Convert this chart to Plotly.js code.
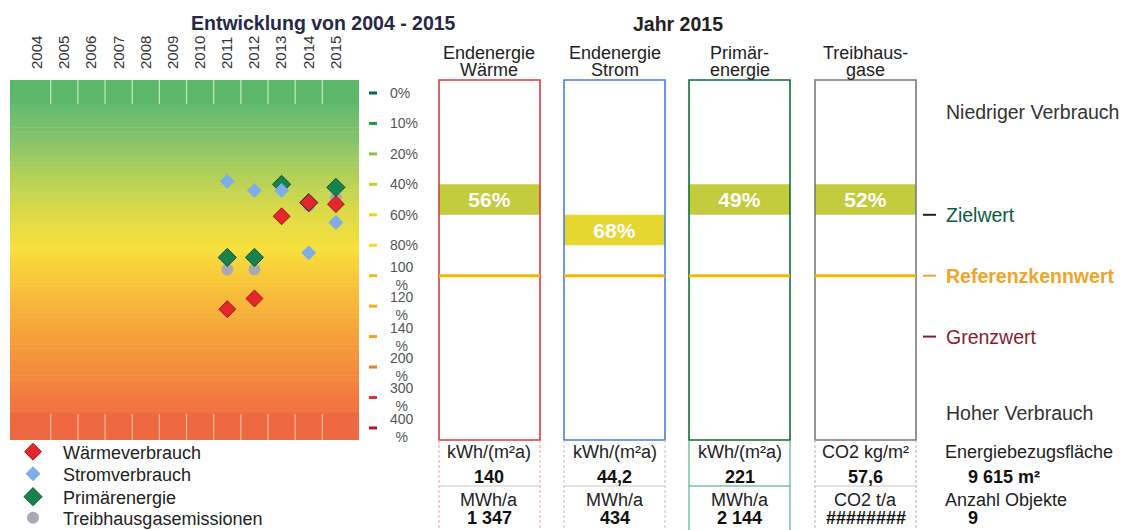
<!DOCTYPE html>
<html><head><meta charset="utf-8">
<script src="https://cdn.plot.ly/plotly-3.0.1.min.js"></script>
<style>
html,body{margin:0;padding:0;background:#fff;width:1122px;height:530px;overflow:hidden}
#chart{position:absolute;left:0;top:0;width:1122px;height:530px}
</style>
</head><body><div id="chart"></div>
<script>
// ---------- data ----------
const years = [2004,2005,2006,2007,2008,2009,2010,2011,2012,2013,2014,2015];
const scaleTicks = [0,10,20,40,60,80,100,120,140,200,300,400];
const scaleLabels = ['0%','10%','20%','40%','60%','80%','100<br>%','120<br>%','140<br>%','200<br>%','300<br>%','400<br>%'];
const tickColors = ['#0b6b3c','#1f9a48','#8fc43c','#c5d22c','#e9d51c','#f2dc12','#f0bc1c','#efb020','#eda022','#e67e22','#d8343a','#c0102e'];

const dataYears = [2011,2012,2013,2014,2015];
const waerme    = [122,115,61,52,53];
const strom     = [38,44,44,85,65];
const primaer   = [88,88,40,52,42];
const treibhaus = [96,96,43,54,49];

const headerLine1 = ['Endenergie','Endenergie','Primär-','Treibhaus-'];
const headerLine2 = ['Wärme','Strom','energie','gase'];
const share2015   = [56,68,49,52];
const specUnits   = ['kWh/(m²a)','kWh/(m²a)','kWh/(m²a)','CO2 kg/m²'];
const specValues  = ['140','44,2','221','57,6'];
const absUnits    = ['MWh/a','MWh/a','MWh/a','CO2 t/a'];
const absValues   = ['1 347','434','2 144','########'];
const levelNames  = ['Zielwert','Referenzkennwert','Grenzwert'];
const levelValues = [60,100,140];
const areaText = '9 615 m²';
const objectCount = '9';

// ---------- helpers ----------
const W = 1122, H = 530;
const px = x => x / W, py = y => 1 - y / H;
const FONT = 'Liberation Sans, Arial, sans-serif';
function toIdx(v){
  for (let i = 0; i < scaleTicks.length - 1; i++){
    if (v <= scaleTicks[i+1]) return i + (v - scaleTicks[i]) / (scaleTicks[i+1] - scaleTicks[i]);
  }
  return scaleTicks.length - 1;
}
function classIdx(v){
  for (let i = 0; i < scaleTicks.length - 1; i++){ if (v < scaleTicks[i+1]) return i; }
  return scaleTicks.length - 2;
}
const classColors = ['#6cbd72','#98c865','#b6cf50','#c3cc3c','#e6d630','#f5d83a','#f6c23a','#f4aa3a','#f39240','#f07a42','#ee6a42'];
function hex2rgb(h){ return [1,3,5].map(i => parseInt(h.substr(i,2),16)); }
const gradStops = [[104,'#62ba72'],[140,'#86c46a'],[175,'#b2d05a'],[210,'#d9da48'],[248,'#f7e03c'],[280,'#f8c83a'],[320,'#f6ac3a'],[360,'#f4933c'],[395,'#f27c40'],[414,'#f0703f']];
function gradColor(y){
  for (let i = 0; i < gradStops.length - 1; i++){
    const [y0,c0] = gradStops[i], [y1,c1] = gradStops[i+1];
    if (y <= y1){
      const t = Math.max(0,(y - y0)/(y1 - y0)), a = hex2rgb(c0), b = hex2rgb(c1);
      return 'rgb(' + a.map((v,k) => Math.round(v + (b[k]-v)*t)).join(',') + ')';
    }
  }
  return gradStops[gradStops.length-1][1];
}

// ---------- traces ----------
const traces = [];
traces.push({type:'scatter', mode:'markers', name:'Treibhausgasemissionen', legend:'legend4',
  x: dataYears, y: treibhaus.map(toIdx), xaxis:'x', yaxis:'y',
  marker:{symbol:'circle', size:12, color:'#a9a9b4'}, hoverinfo:'skip'});
traces.push({type:'scatter', mode:'markers', name:'Primärenergie', legend:'legend3',
  x: dataYears, y: primaer.map(toIdx), xaxis:'x', yaxis:'y',
  marker:{symbol:'diamond', size:14, color:'#17824c', line:{color:'#0d5a32', width:1}}, hoverinfo:'skip'});
traces.push({type:'scatter', mode:'markers', name:'Stromverbrauch', legend:'legend2',
  x: dataYears, y: strom.map(toIdx), xaxis:'x', yaxis:'y',
  marker:{symbol:'diamond', size:11.5, color:'#7eaee8'}, hoverinfo:'skip'});
traces.push({type:'scatter', mode:'markers', name:'Wärmeverbrauch', legend:'legend',
  x: dataYears, y: waerme.map(toIdx), xaxis:'x', yaxis:'y',
  marker:{symbol:'diamond', size:13, color:'#e2282c', line:{color:'#a8141a', width:1}}, hoverinfo:'skip'});

share2015.forEach((v,i) => {
  const ax = 'x' + (i+2);
  traces.push({type:'bar', x:[0], y:[1], base:[classIdx(v)], width:[1], xaxis:ax, yaxis:'y',
    marker:{color: classColors[classIdx(v)], line:{width:0}},
    text:[v + '%'], textposition:'inside', insidetextanchor:'middle', textangle:0,
    textfont:{color:'#ffffff', size:21, family:FONT, weight:'bold'}, constraintext:'none',
    showlegend:false, hoverinfo:'skip'});
});

// ---------- layout ----------
const boxLeft = [439, 564, 689, 815], boxW = 101;
const boxColors = ['#e0383c','#4a80d2','#0f6e38','#7a7a7a'];
const tableLine = ['#e8a0a8','#c0c0c0','#3aa07a','#b0b0b0'];
const shapes = [], annotations = [];

// gradient background
const N = 80;
for (let k = 0; k < N; k++){
  const y0 = 104 + (414-104)*k/N, y1 = 104 + (414-104)*(k+1)/N + 0.6;
  shapes.push({type:'rect', layer:'below', xref:'x domain', yref:'paper', x0:0, x1:1, y0:py(y0), y1:py(y1),
    fillcolor: gradColor((y0+y1)/2), line:{width:0}});
}
shapes.push({type:'rect', layer:'below', xref:'x domain', yref:'paper', x0:0, x1:1, y0:py(80), y1:py(104.5), fillcolor:'#5db86b', line:{width:0}});
shapes.push({type:'rect', layer:'below', xref:'x domain', yref:'paper', x0:0, x1:1, y0:py(413.5), y1:py(440), fillcolor:'#ee6842', line:{width:0}});
years.slice(0,-1).forEach(yr => {
  shapes.push({type:'line', layer:'below', xref:'x', yref:'paper', x0:yr+0.5, x1:yr+0.5, y0:py(80), y1:py(104), line:{color:'rgba(220,245,215,0.75)', width:1.3}});
  shapes.push({type:'line', layer:'below', xref:'x', yref:'paper', x0:yr+0.5, x1:yr+0.5, y0:py(414), y1:py(440), line:{color:'rgba(255,200,170,0.8)', width:1.3}});
});

// scale ticks + labels
scaleTicks.forEach((t,i) => {
  shapes.push({type:'line', xref:'paper', yref:'y', x0:px(369), x1:px(377), y0:i, y1:i, line:{color:tickColors[i], width:3}});
  annotations.push({xref:'paper', yref:'y', x:px(388), y:i, xanchor:'left', yanchor:'middle', align:'center',
    text: scaleLabels[i], showarrow:false, font:{size:14, color:'#555', family:FONT}});
});

// boxes, reference line, table
const lastRow = {yref:'paper', y:py(529.5), yanchor:'bottom', showarrow:false};
boxLeft.forEach((bx,i) => {
  const ax = 'x' + (i+2);
  shapes.push({type:'rect', xref: ax + ' domain', yref:'y domain', x0:0, x1:1, y0:0, y1:1, line:{color:boxColors[i], width:1.6}});
  shapes.push({type:'line', xref: ax + ' domain', yref:'y', x0:0, x1:1, y0:toIdx(levelValues[1]), y1:toIdx(levelValues[1]), line:{color:'#f5b800', width:3}});
  const dash = i === 2 ? 'solid' : '3px,2px';
  [0,1].forEach(e => shapes.push({type:'line', xref: ax + ' domain', yref:'paper', x0:e, x1:e, y0:py(440), y1:py(530), line:{color:tableLine[i], width:1, dash:dash}}));
  shapes.push({type:'line', xref: ax + ' domain', yref:'paper', x0:0, x1:1, y0:py(486), y1:py(486), line:{color: i===2 ? '#3aa07a' : '#c8c8c8', width:1}});
  annotations.push({xref:ax, yref:'paper', x:0, y:py(53), text:headerLine1[i], showarrow:false, yanchor:'middle', font:{size:18, color:'#222', family:FONT}});
  annotations.push({xref:ax, yref:'paper', x:0, y:py(70), text:headerLine2[i], showarrow:false, yanchor:'middle', font:{size:18, color:'#222', family:FONT}});
  annotations.push({xref:ax, yref:'paper', x:0, y:py(452), text:specUnits[i], showarrow:false, yanchor:'middle', font:{size:18, color:'#222', family:FONT}});
  annotations.push({xref:ax, yref:'paper', x:0, y:py(477), text:'<b>' + specValues[i] + '</b>', showarrow:false, yanchor:'middle', font:{size:18, color:'#111', family:FONT}});
  annotations.push({xref:ax, yref:'paper', x:0, y:py(500), text:absUnits[i], showarrow:false, yanchor:'middle', font:{size:18, color:'#222', family:FONT}});
  annotations.push(Object.assign({xref:ax, x:0, text:'<b>' + absValues[i] + '</b>', font:{size:18, color:'#111', family:FONT}}, lastRow));
});

// right-hand labels
const levelColors = ['#0d5b3f','#f0a42a','#8b1a2e'];
const dashColors = ['#222','#f0a42a','#8b1a2e'];
levelNames.forEach((n,i) => {
  shapes.push({type:'line', xref:'paper', yref:'y', x0:px(923), x1:px(936), y0:toIdx(levelValues[i]), y1:toIdx(levelValues[i]), line:{color:dashColors[i], width:2}});
  annotations.push({xref:'paper', yref:'y', x:px(944), y:toIdx(levelValues[i]), xanchor:'left', yanchor:'middle', showarrow:false,
    text: i===1 ? '<b>' + n + '</b>' : n, font:{size:19.5, color:levelColors[i], family:FONT}});
});
annotations.push({xref:'paper', yref:'paper', x:px(944), y:py(112), xanchor:'left', yanchor:'middle', showarrow:false, text:'Niedriger Verbrauch', font:{size:19.5, color:'#333', family:FONT}});
annotations.push({xref:'paper', yref:'paper', x:px(944), y:py(413), xanchor:'left', yanchor:'middle', showarrow:false, text:'Hoher Verbrauch', font:{size:19.5, color:'#333', family:FONT}});
annotations.push({xref:'paper', yref:'paper', x:px(943), y:py(452), xanchor:'left', yanchor:'middle', showarrow:false, text:'Energiebezugsfläche', font:{size:18, color:'#222', family:FONT}});
annotations.push({xref:'paper', yref:'paper', x:px(966), y:py(477), xanchor:'left', yanchor:'middle', showarrow:false, text:'<b>' + areaText + '</b>', font:{size:18, color:'#111', family:FONT}});
annotations.push({xref:'paper', yref:'paper', x:px(943), y:py(500), xanchor:'left', yanchor:'middle', showarrow:false, text:'Anzahl Objekte', font:{size:18, color:'#222', family:FONT}});
annotations.push(Object.assign({xref:'paper', x:px(966), xanchor:'left', text:'<b>' + objectCount + '</b>', font:{size:18, color:'#111', family:FONT}}, lastRow));

// titles
annotations.push({xref:'paper', yref:'paper', x:px(189), y:py(23), showarrow:false, yanchor:'middle',
  text:'<b>Entwicklung von ' + years[0] + ' - ' + years[years.length-1] + '</b>', font:{size:19.5, color:'#272746', family:FONT}});
annotations.push({xref:'paper', yref:'paper', x:px(678), y:py(24), showarrow:false, yanchor:'middle',
  text:'<b>Jahr ' + years[years.length-1] + '</b>', font:{size:19.5, color:'#222', family:FONT}});

const hidden = {visible:false, range:[-0.5,0.5], fixedrange:true, anchor:'y'};
function legendAt(yPix){
  return {x:px(3), y:py(yPix), xanchor:'left', yanchor:'middle', itemwidth:50, bgcolor:'rgba(0,0,0,0)',
    font:{size:18, color:'#222', family:FONT}};
}
const layout = {
  width:W, height:H, margin:{l:0,r:0,t:0,b:0,autoexpand:false}, paper_bgcolor:'#fff', plot_bgcolor:'rgba(0,0,0,0)',
  font:{family:FONT}, showlegend:true,
  legend: legendAt(452), legend2: legendAt(474), legend3: legendAt(497), legend4: legendAt(518),
  xaxis:{domain:[px(10), px(359)], range:[2003.0, 2015.85], side:'top', anchor:'y',
    tickmode:'array', tickvals:years, ticktext:years.map(String), tickangle:-90, ticks:'', ticklabelstandoff:10,
    tickfont:{size:15, color:'#333', family:FONT}, showgrid:false, zeroline:false, showline:false, fixedrange:true},
  yaxis:{domain:[py(440), py(80)], range:[toIdx(400) + 0.396, -0.427], visible:false, fixedrange:true},
  xaxis2:Object.assign({domain:[px(boxLeft[0]), px(boxLeft[0]+boxW)]}, hidden),
  xaxis3:Object.assign({domain:[px(boxLeft[1]), px(boxLeft[1]+boxW)]}, hidden),
  xaxis4:Object.assign({domain:[px(boxLeft[2]), px(boxLeft[2]+boxW)]}, hidden),
  xaxis5:Object.assign({domain:[px(boxLeft[3]), px(boxLeft[3]+boxW)]}, hidden),
  shapes: shapes, annotations: annotations
};
Plotly.newPlot('chart', traces, layout, {displayModeBar:false, staticPlot:true});
</script>
</body></html>
